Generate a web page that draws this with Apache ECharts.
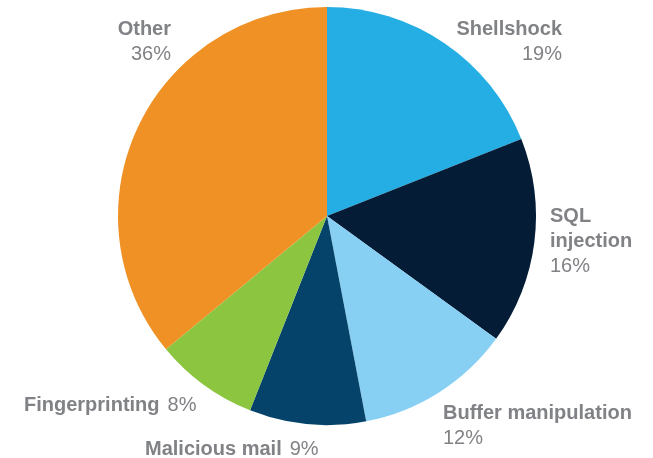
<!DOCTYPE html>
<html>
<head>
<meta charset="utf-8">
<script src="https://cdn.jsdelivr.net/npm/echarts@6/dist/echarts.min.js"></script>
<style>html,body{margin:0;padding:0;background:#fff}#c{width:653px;height:458px}</style>
</head>
<body>
<div id="c"></div>
<script>
const categories = ['Shellshock', 'SQL injection', 'Buffer manipulation', 'Malicious mail', 'Fingerprinting', 'Other'];
const values = [19, 16, 12, 9, 8, 36];
const labelNames = ['Shellshock', 'SQL\ninjection', 'Buffer manipulation', 'Malicious mail', 'Fingerprinting', 'Other'];

const colors = ['#25AEE4', '#041C35', '#88CFF4', '#05436A', '#8CC640', '#F09126'];
const labelPos = [
  {x: 562, y: 17, align: 'right', inline: false},
  {x: 550, y: 204, align: 'left', inline: false},
  {x: 443, y: 401, align: 'left', inline: false},
  {x: 145, y: 437, align: 'left', inline: true},
  {x: 24, y: 393, align: 'left', inline: true},
  {x: 171, y: 17, align: 'right', inline: false}
];

const chart = echarts.init(document.getElementById('c'), null, {renderer: 'canvas'});
const data = categories.map((n, i) => ({
  name: n,
  value: values[i],
  itemStyle: {color: colors[i]},
  label: {align: labelPos[i].align}
}));
chart.setOption({
  animation: false,
  series: [{
    type: 'pie',
    center: [327, 216],
    radius: 209,
    startAngle: 90,
    clockwise: true,
    avoidLabelOverlap: false,
    silent: true,
    data: data,
    labelLine: {show: false},
    label: {
      show: true,
      position: 'outside',
      formatter: function (p) {
        const i = p.dataIndex;
        const nm = labelNames[i].split('\n').map(s => '{b|' + s + '}').join('\n');
        return nm + (labelPos[i].inline ? '{p2|' + values[i] + '%}' : '\n{p|' + values[i] + '%}');
      },
      rich: {
        b: {fontFamily: 'Liberation Sans, Arial, sans-serif', fontWeight: 'bold', fontSize: 20, color: '#808285', lineHeight: 25},
        p: {fontFamily: 'Liberation Sans, Arial, sans-serif', fontWeight: 'normal', fontSize: 20, color: '#808285', lineHeight: 25},
        p2: {fontFamily: 'Liberation Sans, Arial, sans-serif', fontWeight: 'normal', fontSize: 20, color: '#808285', lineHeight: 25, padding: [0, 0, 0, 8]}
      }
    },
    labelLayout: function (params) {
      const p = labelPos[params.dataIndex];
      return {x: p.x, y: p.y, align: p.align, verticalAlign: 'top'};
    }
  }]
});
</script>
</body>
</html>
